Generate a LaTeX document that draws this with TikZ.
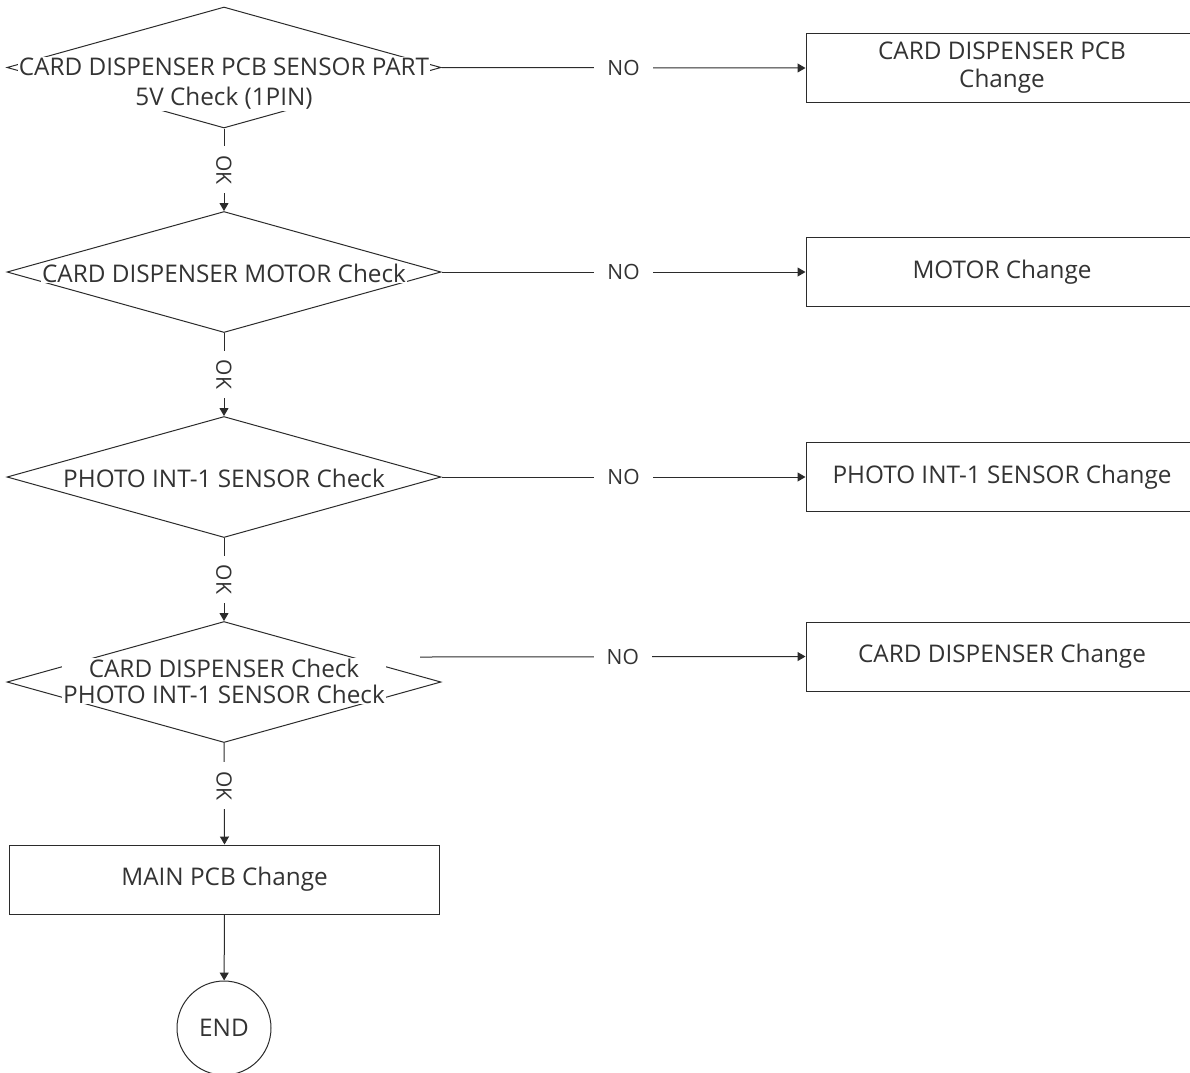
\documentclass[tikz,border=0pt]{standalone}
\usepackage{fontspec}
\setmainfont{Open Sans}
\usepackage{tikz}
\usepackage{xcolor}
\usetikzlibrary{shapes.geometric,arrows.meta,positioning}
\definecolor{FlowLine}{HTML}{2B2B2B}
\definecolor{FlowText}{HTML}{333333}
\definecolor{FlowWhite}{HTML}{ffffff}
\tikzset{
    % Base node style
    basenode/.style={
        draw=FlowLine,
        fill=FlowWhite,
        line width=1pt,
        align=center,
        text=FlowText,
        font=\fontsize{24.3}{28}\selectfont
    },
    % Decision diamond (its text is set on top)
    decisionnode/.style={
        basenode,
        diamond,
        minimum width=434pt,
        minimum height=121pt,
        inner sep=0pt
    },
    % Text over a diamond
    decisiontext/.style={
        fill=FlowWhite,
        inner sep=1pt,
        align=center,
        text=FlowText,
        font=\fontsize{24.3}{26}\selectfont
    },
    % Change box on the right
    changenode/.style={
        basenode,
        minimum width=392pt,
        minimum height=69pt
    },
    % Main box
    mainnode/.style={
        basenode,
        minimum width=430pt,
        minimum height=69pt
    },
    % End circle
    endnode/.style={
        basenode,
        circle,
        minimum size=94pt,
        inner sep=0pt
    },
    % Arrow style
    myarrow/.style={
        -{Triangle[length=8pt,width=9pt]},
        line width=1pt,
        draw=FlowLine
    },
    % NO label on the side lines
    nolabel/.style={
        fill=FlowWhite,
        text=FlowText,
        inner xsep=13pt,
        font=\fontsize{21}{23}\selectfont
    },
    % OK label on the down lines
    oklabel/.style={
        fill=FlowWhite,
        text=FlowText,
        rotate=-90,
        inner xsep=9pt,
        font=\fontsize{21}{23}\selectfont
    }
}
\begin{document}
\begin{tikzpicture}[x=1pt, y=-1pt]
        \useasboundingbox (0,0) rectangle (1190,1072);

        % Checks
        \node[decisionnode] (d1) at (224,67.5) {};
        \node[decisionnode] (d2) at (224,272) {};
        \node[decisionnode] (d3) at (224,477) {};
        \node[decisionnode] (d4) at (224,682) {};
        \node[decisiontext, font=\fontsize{24.3}{30}\selectfont] (t1) at (224,84) {CARD DISPENSER PCB SENSOR PART\\5V Check (1PIN)};
        \node[decisiontext] (t2) at (224,273) {CARD DISPENSER MOTOR Check};
        \node[decisiontext] (t3) at (224,478) {PHOTO INT-1 SENSOR Check};
        \node[decisiontext] (t4) at (224,681) {CARD DISPENSER Check\\PHOTO INT-1 SENSOR Check};

        % Changes
        \node[changenode] (b1) at (1002,68) {CARD DISPENSER PCB\\Change};
        \node[changenode] (b2) at (1002,272) {MOTOR Change};
        \node[changenode] (b3) at (1002,477) {PHOTO INT-1 SENSOR Change};
        \node[changenode] (b4) at (1002,656.5) {CARD DISPENSER Change};

        % Main PCB and end
        \node[mainnode] (main) at (224.5,879.5) {MAIN PCB Change};
        \node[endnode] (end) at (224,1028) {END};

        % NO arrows
        \coordinate (n4) at (420,657);
        \draw[myarrow] (d1.east) -- node[nolabel]{NO} (b1.west);
        \draw[myarrow] (d2.east) -- node[nolabel]{NO} (b2.west);
        \draw[myarrow] (d3.east) -- node[nolabel]{NO} (b3.west);
        \draw[myarrow] (n4) -- node[nolabel, pos=0.526]{NO} (b4.west);

        % OK arrows
        \draw[myarrow] (d1.south) -- node[oklabel]{OK} (d2.north);
        \draw[myarrow] (d2.south) -- node[oklabel]{OK} (d3.north);
        \draw[myarrow] (d3.south) -- node[oklabel]{OK} (d4.north);
        \draw[myarrow] (d4.south) -- node[oklabel, pos=0.42]{OK} (main.north);
        \draw[myarrow] (main) -- (end);
    \end{tikzpicture}
\end{document}
